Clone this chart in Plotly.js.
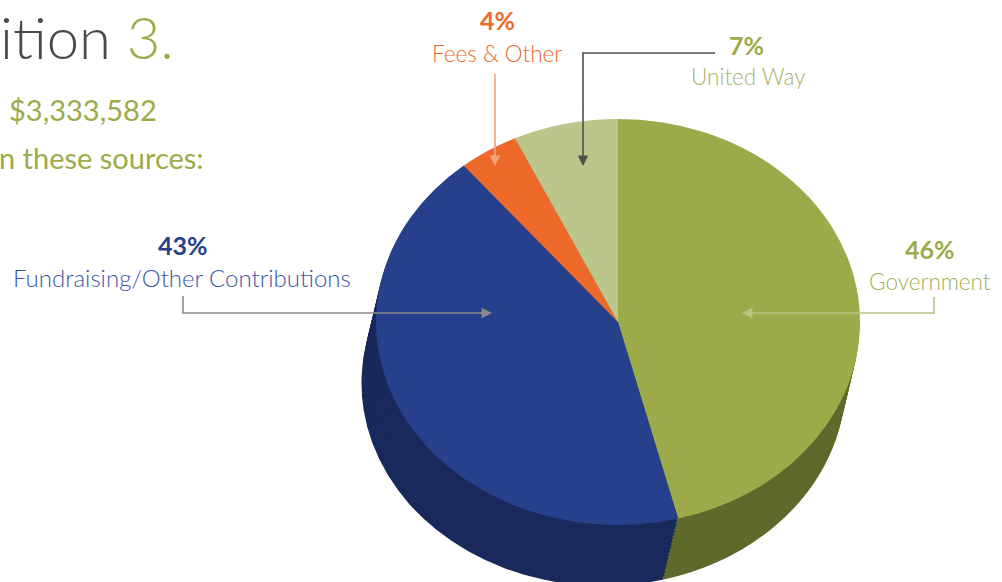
<!DOCTYPE html>
<html><head><meta charset="utf-8">
<script src="https://cdn.plot.ly/plotly-3.0.1.min.js"></script>
<style>
html,body{margin:0;padding:0;background:#fff;}
#chart{width:1002px;height:582px;}
/* oblique view of the pie: stretch the pie layer horizontally and move it down */
#chart .pielayer{transform-box:view-box;transform-origin:618px 290px;transform:translate(0px,32px) scale(1.21,1.015);}
</style>
</head><body><div id="chart"></div>
<script>
// ---- data ----
const categories = ['Government', 'Fundraising/Other Contributions', 'Fees & Other', 'United Way'];
const shares = [46, 43, 4, 7];
const topColors = ['#9DAA4A', '#26408C', '#EE6A2A', '#BCC68A'];
const sideColors = ['#5E6A2C', '#19295C', '#9A4418', '#7D8656'];
const labelColors = ['#9DAA4A', '#26408C', '#EE6A2A', '#9DAA4A'];
const nameColors = ['#A4AE5A', '#3A55A6', '#EE6A2A', '#A8B26A'];
const titlePart = 'ition';
const titleNum = '3.';
const totalText = '$3,333,582';
const subText = 'n these sources:';

// ---- geometry helpers (layout only) ----
const W = 1002, H = 582;
const fx = p => p / W, fy = p => 1 - p / H;
const cx = 618, cy = 290, r = 200;
const depth = {dx: -12, dy: 60};
const layers = 18;
function dom(ox, oy) {
  return {x: [fx(cx - r + ox), fx(cx + r + ox)], y: [fy(cy + r + oy), fy(cy - r + oy)]};
}
function pieTrace(colors, ox, oy) {
  return {type: 'pie', values: shares, labels: categories, sort: false, direction: 'clockwise',
    rotation: 0, textinfo: 'none', hoverinfo: 'skip', showlegend: false,
    marker: {colors: colors, line: {width: 0}}, domain: dom(ox, oy)};
}
const traces = [];
for (let k = layers; k >= 1; k--) traces.push(pieTrace(sideColors, depth.dx * k / layers, depth.dy * k / layers));
traces.push(pieTrace(topColors, 0, 0));

const FONT = 'Lato, "Open Sans", sans-serif';
function txt(text, x, y, size, color, weight, anchor) {
  return {text: text, xref: 'paper', yref: 'paper', x: fx(x), y: fy(y), showarrow: false,
    xanchor: anchor || 'center', yanchor: 'middle', font: {family: FONT, size: size, color: color, weight: weight || 400}};
}
function arrow(hx, hy, tx, ty, color) {
  return {text: '', xref: 'paper', yref: 'paper', x: fx(hx), y: fy(hy), ax: tx - hx, ay: ty - hy,
    showarrow: true, arrowhead: 2, arrowsize: 1.3, arrowwidth: 1.6, arrowcolor: color, standoff: 0};
}
function seg(pts, color) {
  let d = 'M ' + pts.map(p => fx(p[0]) + ' ' + fy(p[1])).join(' L ');
  return {type: 'path', xref: 'paper', yref: 'paper', path: d, line: {color: color, width: 1.6}};
}
const pct = shares.map(v => v + '%');

const annotations = [
  txt(titlePart + ' <span style="color:#9DAA4A">' + titleNum + '</span>', -2, 36, 58, '#4A4A4A', 300, 'left'),
  txt(totalText, 7, 109, 29, '#9DAA4A', 400, 'left'),
  txt(subText, -3, 158, 29, '#9DAA4A', 400, 'left'),
  // Fees & Other
  txt(pct[2], 497, 20, 25, labelColors[2], 700),
  txt(categories[2], 497, 53, 22.5, nameColors[2], 300),
  arrow(495, 166, 495, 72, '#F4A478'),
  // United Way
  txt(pct[3], 746, 45, 25, labelColors[3], 700),
  txt(categories[3], 748, 77, 22.5, nameColors[3], 300),
  arrow(583, 166, 583, 110, '#4F4F4F'),
  // Fundraising
  txt(pct[1], 183, 245, 25, labelColors[1], 700),
  txt(categories[1], 182, 277, 24, nameColors[1], 300),
  arrow(492, 313, 400, 313, '#8A8A8A'),
  // Government
  txt(pct[0], 930, 249, 25, labelColors[0], 700),
  txt(categories[0], 930, 281, 22.5, nameColors[0], 300),
  arrow(742, 313, 820, 313, '#B9C183')
];
const shapes = [
  seg([[715, 53], [583, 53], [583, 112]], '#4F4F4F'),
  seg([[183, 296], [183, 313], [402, 313]], '#8A8A8A'),
  seg([[934, 297], [934, 313], [818, 313]], '#B9C183')
];

Plotly.newPlot('chart', traces, {
  width: W, height: H, margin: {l: 0, r: 0, t: 0, b: 0},
  paper_bgcolor: '#FFFFFF', plot_bgcolor: '#FFFFFF',
  annotations: annotations, shapes: shapes, showlegend: false
}, {staticPlot: true});
</script>
</body></html>
